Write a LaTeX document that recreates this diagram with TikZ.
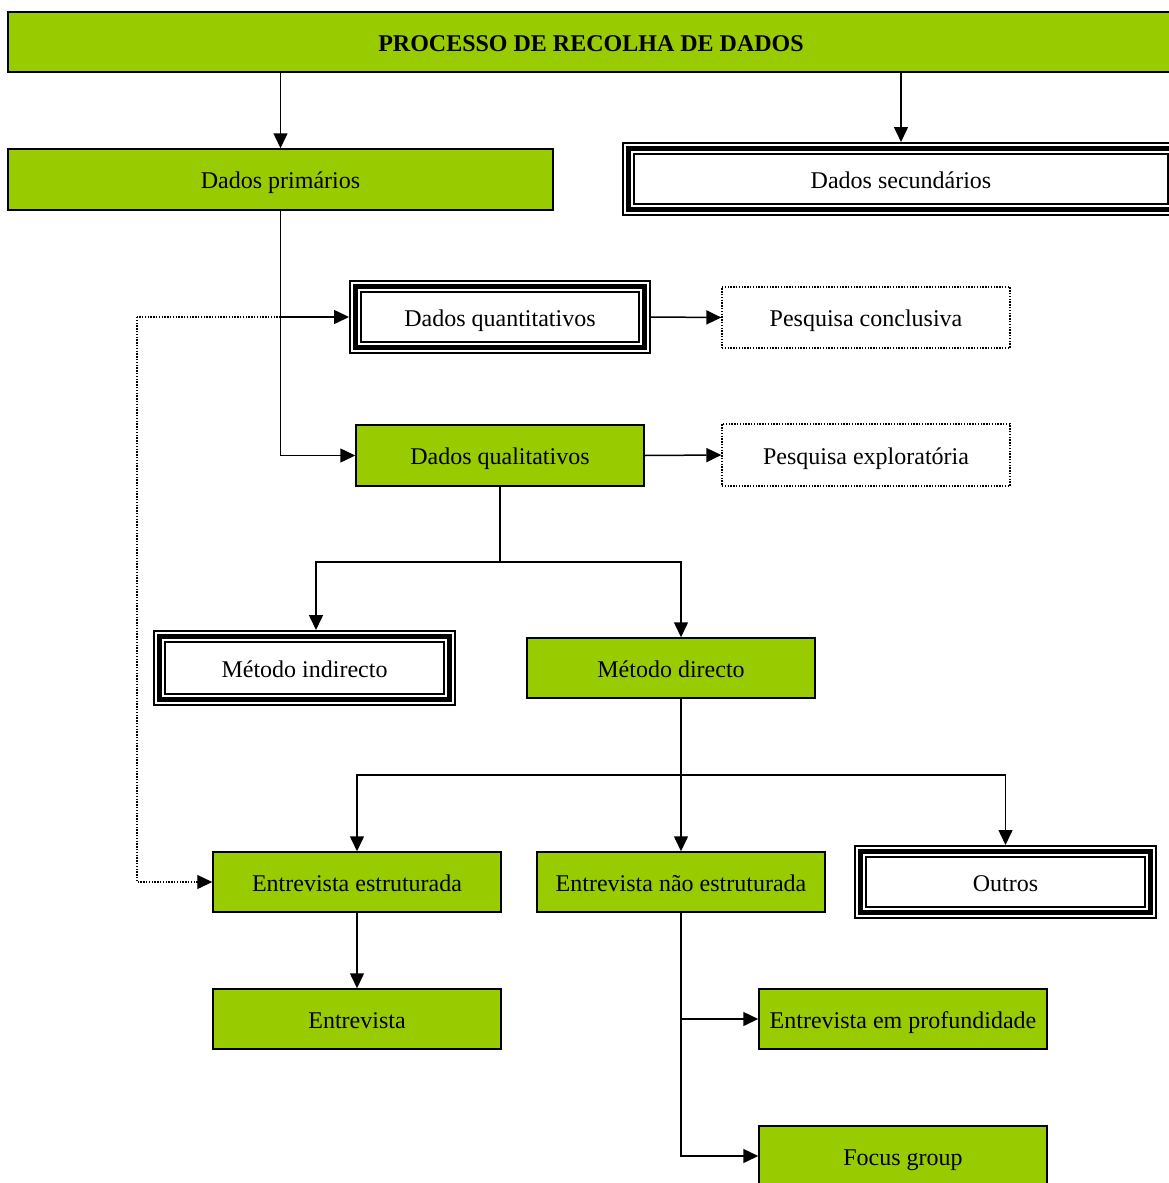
\documentclass[tikz,border=0pt]{standalone}
\usepackage{fontspec}
\setmainfont{Liberation Serif}
\usetikzlibrary{arrows.meta}
\definecolor{leaf}{HTML}{99CC00}
\begin{document}
\begin{tikzpicture}[x=1pt,y=-1pt,
  every node/.style={font=\fontsize{24}{28}\selectfont, inner sep=0pt, align=center, text height=18pt, text depth=0pt},
  greenbox/.style={draw=black, fill=leaf, line width=1.5pt, minimum width=288pt, minimum height=60pt},
  dotbox/.style={draw=black, fill=white, line width=1.3pt, dash pattern=on 1.4pt off 1.4pt, minimum width=288pt, minimum height=61pt},
  triplebox/.style={draw=black, fill=white, line width=13pt,
    postaction={draw=white, line width=9pt},
    postaction={draw=black, line width=5pt},
    minimum width=289pt, minimum height=61pt},
  arr/.style={line width=1.5pt, -{Triangle[length=15pt,width=14pt]}},
  link/.style={line width=1.5pt},
  dotlink/.style={line width=1.4pt, dash pattern=on 1.4pt off 1.4pt}]
\useasboundingbox (0,0) rectangle (1169,1183);
\clip (0,0) rectangle (1169,1183);

% boxes
\node[greenbox, minimum width=1166pt] (title) at (591,42) {\textbf{PROCESSO DE RECOLHA DE DADOS}};
\node[greenbox, minimum width=545pt, minimum height=61pt] (prim) at (280.5,179.5) {Dados primários};
\node[triplebox, minimum width=545pt] (sec) at (901,179) {Dados secundários};
\node[triplebox] (quant) at (500,317) {Dados quantitativos};
\node[dotbox] (concl) at (866,317.5) {Pesquisa conclusiva};
\node[greenbox, minimum height=61pt] (qual) at (500,455.5) {Dados qualitativos};
\node[dotbox, minimum height=62pt] (explo) at (866,455) {Pesquisa exploratória};
\node[triplebox, minimum width=290pt, minimum height=63pt] (indir) at (304.5,668) {Método indirecto};
\node[greenbox] (dir) at (671,668) {Método directo};
\node[greenbox] (estr) at (357,882) {Entrevista estruturada};
\node[greenbox] (nestr) at (681,882) {Entrevista não estruturada};
\node[triplebox, minimum width=290pt] (outros) at (1005.5,882) {Outros};
\node[greenbox] (entr) at (357,1019) {Entrevista};
\node[greenbox] (prof) at (903,1019) {Entrevista em profundidade};
\node[greenbox] (focus) at (903,1156) {Focus group};

% branch points
\coordinate (qsplit) at (500,562);
\coordinate (dsplit) at (681,775);
\coordinate (dotcorner) at (137,317);

% connectors
\draw[arr] (prim.north |- title.south) -- (prim.north);
\draw[arr] (sec.north |- title.south) -- (sec.north);
\draw[arr] (prim.south) |- (qual.west);
\draw[arr] (prim.south |- quant.west) -- (quant.west);
\draw[dotlink] (prim.south |- quant.west) -- (dotcorner);
\draw[dotlink, -{Triangle[length=15pt,width=14pt]}] (dotcorner) |- (estr.west);
\draw[arr] (quant.east) -- (concl.west);
\draw[arr] (qual.east) -- (explo.west);

\draw[link] (qual.south) -- (qsplit);
\draw[arr] (qsplit) -| ([xshift=11.5pt]indir.north);
\draw[arr] (qsplit) -| ([xshift=10pt]dir.north);

\draw[link] ([xshift=10pt]dir.south) -- (dsplit);
\draw[arr] (dsplit) -| (estr.north);
\draw[arr] (dsplit) -- (nestr.north);
\draw[arr] (dsplit) -| (outros.north);

\draw[arr] (estr.south) -- (entr.north);
\draw[arr] (nestr.south) |- (prof.west);
\draw[arr] (nestr.south) |- (focus.west);
\end{tikzpicture}
\end{document}
